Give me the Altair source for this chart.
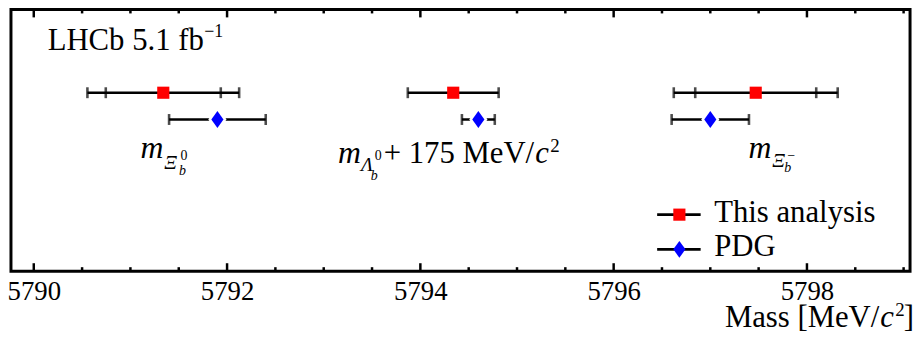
import altair as alt
import pandas as pd

# ---------------- data ----------------
quantities = ["Xi_b0", "Lambda_b0 + 175", "Xi_b-"]
this_val = [5791.34, 5794.34, 5797.47]
this_tot = [0.785, 0.47, 0.848]
this_stat = [0.595, 0.47, 0.626]
pdg_val = [5791.90, 5794.60, 5797.00]
pdg_err = [0.50, 0.17, 0.40]
sources = ["This analysis", "PDG"]
source_rows = [1, 2]
source_colors = ["#ff0000", "#0000ff"]

major_ticks = [5790, 5792, 5794, 5796, 5798]
minor_ticks = [5790.5, 5791, 5791.5, 5792.5, 5793, 5793.5, 5794.5, 5795,
               5795.5, 5796.5, 5797, 5797.5, 5798.5, 5799]

# annotation pieces: text, x (page px), baseline (page px), style
piece_text = ["m", "Ξ", "0", "b",
              "m", "Λ", "0", "b", "+ 175 MeV/", "c", "2",
              "m", "Ξ", "−", "b"]
piece_px = [141.7, 165.7, 182, 180.5,
            341.0, 364, 378, 374, 387, 540, 555,
            755, 779, 794, 791]
piece_py = [158, 169, 160, 175.5,
            163, 171, 160, 180, 163, 163, 152,
            158, 167, 160, 172]
piece_style = ["m", "greek", "sup", "sub",
               "m", "greek", "sup", "sub", "txt", "c", "sup2",
               "m", "greek", "sup", "sub"]

legend_line = [5796.45, 5796.90]
legend_sym_x = 5796.68
legend_text_x = 5797.04
legend_py = [215, 250]

# ---------------- frames ----------------
X0, PX = 34.0, 97.5          # page pixel of 5790, pixels per MeV
YTOP, PY = 8.0, 27.0          # page pixel of plot top, pixels per row
ROW0 = 1 - (92 - YTOP) / PY   # row 1 sits at page y = 92


def px2x(p):
    return 5790 + (p - X0) / PX


def py2row(p):
    return (p - YTOP) / PY + ROW0


pts = pd.DataFrame({
    "source": ["This analysis"] * 3 + ["PDG"] * 3,
    "quantity": quantities * 2,
    "value": this_val + pdg_val,
    "lo": [v - e for v, e in zip(this_val, this_tot)] + [v - e for v, e in zip(pdg_val, pdg_err)],
    "hi": [v + e for v, e in zip(this_val, this_tot)] + [v + e for v, e in zip(pdg_val, pdg_err)],
    "row": [source_rows[0]] * 3 + [source_rows[1]] * 3,
})

caps = []
for v, t, s in zip(this_val, this_tot, this_stat):
    caps += [(v - t, source_rows[0]), (v + t, source_rows[0])]
    if abs(t - s) > 1e-6:
        caps += [(v - s, source_rows[0]), (v + s, source_rows[0])]
for v, e in zip(pdg_val, pdg_err):
    caps += [(v - e, source_rows[1]), (v + e, source_rows[1])]
caps = pd.DataFrame(caps, columns=["x", "row"])

pieces = pd.DataFrame({
    "text": piece_text,
    "x": [px2x(p) for p in piece_px],
    "row": [py2row(p) for p in piece_py],
    "style": piece_style,
})

leg = pd.DataFrame({
    "label": sources,
    "row": [py2row(p) for p in legend_py],
    "x1": [legend_line[0]] * 2,
    "x2": [legend_line[1]] * 2,
    "xs": [legend_sym_x] * 2,
    "xt": [legend_text_x] * 2,
})

ticks_major = pd.DataFrame({"x": major_ticks})
ticks_minor = pd.DataFrame({"x": minor_ticks})

W, H = 907, 264
FONT = "Liberation Serif"

xs = alt.Scale(domain=[px2x(11), px2x(918)], nice=False, zero=False)
ys = alt.Scale(domain=[ROW0, ROW0 + H / PY], reverse=True, nice=False, zero=False)
xaxis = alt.Axis(values=major_ticks, format="d", ticks=False, domain=False, grid=False,
                 labelFont=FONT, labelFontSize=27, labelColor="black", labelPadding=8,
                 title=None, labelFlush=False, labelOverlap=False)


def X(field):
    return alt.X(field, type="quantitative", scale=xs, axis=xaxis)


def Y(field):
    return alt.Y(field, type="quantitative", scale=ys, axis=None)


base = alt.Chart(pts)
bars = base.mark_rule(color="black", strokeWidth=2.6).encode(
    x=X("lo"), x2="hi", y=Y("row"))
capm = alt.Chart(caps).mark_tick(color="black", orient="vertical", size=11, thickness=2.6).encode(
    x=X("x"), y=Y("row"))
sq = base.transform_filter(alt.datum.source == "This analysis").mark_point(
    shape="square", filled=True, color=source_colors[0], size=150, opacity=1).encode(
    x=X("value"), y=Y("row"))
DIAMOND = "M0,-1L0.72,0L0,1L-0.72,0Z"
dm = base.transform_filter(alt.datum.source == "PDG").mark_point(
    shape=DIAMOND, filled=True, color="white", size=290, opacity=1,
    stroke="white", strokeWidth=5).encode(x=X("value"), y=Y("row"))
dm2 = base.transform_filter(alt.datum.source == "PDG").mark_point(
    shape=DIAMOND, filled=True, color=source_colors[1], size=290, opacity=1).encode(
    x=X("value"), y=Y("row"))

tk = []
tk.append(alt.Chart(ticks_major).mark_rule(color="black", strokeWidth=2.5).encode(
    x=X("x"), y=alt.value(H), y2=alt.value(H - 8)))
tk.append(alt.Chart(ticks_major).mark_rule(color="black", strokeWidth=2.5).encode(
    x=X("x"), y=alt.value(0), y2=alt.value(8)))
tk.append(alt.Chart(ticks_minor).mark_rule(color="black", strokeWidth=2.5).encode(
    x=X("x"), y=alt.value(H), y2=alt.value(H - 4)))
tk.append(alt.Chart(ticks_minor).mark_rule(color="black", strokeWidth=2.5).encode(
    x=X("x"), y=alt.value(0), y2=alt.value(4)))

styles = {
    "m": dict(fontSize=32, fontStyle="italic"),
    "greek": dict(fontSize=20, fontStyle="italic"),
    "sup": dict(fontSize=14, fontStyle="normal"),
    "sub": dict(fontSize=14, fontStyle="italic"),
    "txt": dict(fontSize=31, fontStyle="normal"),
    "c": dict(fontSize=31, fontStyle="italic"),
    "sup2": dict(fontSize=19, fontStyle="normal"),
}
texts = []
for st, kw in styles.items():
    texts.append(alt.Chart(pieces).transform_filter(alt.datum.style == st).mark_text(
        font=FONT, align="left", baseline="alphabetic", color="black", **kw).encode(
        x=X("x"), y=Y("row"), text="text:N"))

lg_line = alt.Chart(leg).mark_rule(color="black", strokeWidth=2.6).encode(
    x=X("x1"), x2="x2", y=Y("row"))
lg_sq = alt.Chart(leg).transform_filter(alt.datum.label == "This analysis").mark_point(
    shape="square", filled=True, color=source_colors[0], size=150, opacity=1).encode(
    x=X("xs"), y=Y("row"))
lg_dm = alt.Chart(leg).transform_filter(alt.datum.label == "PDG").mark_point(
    shape=DIAMOND, filled=True, color=source_colors[1], size=290, opacity=1).encode(
    x=X("xs"), y=Y("row"))
lg_txt = alt.Chart(leg).mark_text(font=FONT, fontSize=31, align="left", baseline="alphabetic",
                                  dy=7, color="black").encode(
    x=X("xt"), y=Y("row"), text="label:N")

lhcb = alt.Chart(pd.DataFrame({"t": ["LHCb 5.1 fb"]})).mark_text(
    font=FONT, fontSize=31, align="left", baseline="alphabetic", color="black").encode(
    x=alt.value(37), y=alt.value(41), text="t:N")
lhcb_sup = alt.Chart(pd.DataFrame({"t": ["−1"]})).mark_text(
    font=FONT, fontSize=18, align="left", baseline="alphabetic", color="black").encode(
    x=alt.value(195), y=alt.value(28), text="t:N")

# x-axis title "Mass [MeV/c²]" with an italic c, right-aligned to the frame
TB = 320
title_a = alt.Chart(pd.DataFrame({"t": ["Mass [MeV/"]})).mark_text(
    font=FONT, fontSize=31, align="right", baseline="alphabetic", color="black").encode(
    x=alt.value(876), y=alt.value(TB), text="t:N")
title_c = alt.Chart(pd.DataFrame({"t": ["c"]})).mark_text(
    font=FONT, fontSize=31, fontStyle="italic", align="left", baseline="alphabetic",
    color="black").encode(x=alt.value(877), y=alt.value(TB), text="t:N")
title_2 = alt.Chart(pd.DataFrame({"t": ["2"]})).mark_text(
    font=FONT, fontSize=19, align="left", baseline="alphabetic", color="black").encode(
    x=alt.value(892), y=alt.value(TB - 11), text="t:N")
title_b = alt.Chart(pd.DataFrame({"t": ["]"]})).mark_text(
    font=FONT, fontSize=31, align="right", baseline="alphabetic", color="black").encode(
    x=alt.value(911), y=alt.value(TB), text="t:N")

chart = alt.layer(
    bars, capm, dm, sq, dm2, *tk, *texts, lg_line, lg_sq, lg_dm, lg_txt, lhcb, lhcb_sup,
    title_a, title_c, title_2, title_b
).properties(
    width=W, height=H,
    autosize=alt.AutoSizeParams(type="none"),
    padding={"left": 3, "top": 0, "right": 5, "bottom": 70},
).configure_view(
    stroke="black", strokeWidth=3
)

chart.save("out.html", embed_options={"renderer": "svg", "actions": False})
